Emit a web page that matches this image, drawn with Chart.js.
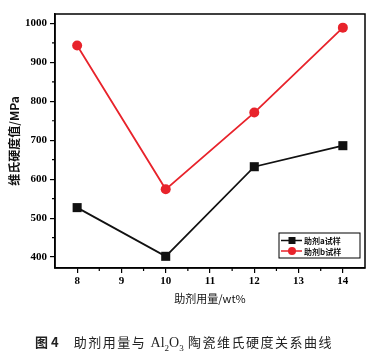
<!DOCTYPE html>
<html>
<head>
<meta charset="utf-8">
<script src="https://cdn.jsdelivr.net/npm/chart.js@4.4.1/dist/chart.umd.min.js"></script>
<style>
    body { margin: 0; background: #fff; }
    #wrap { position: relative; width: 378px; height: 358px; }
    #caption {
        position: absolute; left: 35px; top: 333px; white-space: nowrap;
        font: 13px/18px "Noto Sans CJK SC", sans-serif; color: #222; letter-spacing: 1.5px;
    }
    #caption b { font-weight: bold; letter-spacing: 0; margin-right: 15px; }
    #caption .f { font-family: "Liberation Serif", serif; font-size: 14px; letter-spacing: 0; }
    #caption sub { font-size: 9px; }
</style>
</head>
<body>
<div id="wrap">
    <canvas id="hardChart" width="378" height="358"></canvas>
    <div id="caption"><b>图 4</b>助剂用量与 <span class="f">Al<sub>2</sub>O<sub>3</sub></span> 陶瓷维氏硬度关系曲线</div>
</div>
<script>
const doses = [8, 10, 12, 14];
const hardnessA = [527, 402, 632, 686];
const hardnessB = [943, 574, 771, 989];
const xTicks = [8, 9, 10, 11, 12, 13, 14];
const yTicks = [400, 500, 600, 700, 800, 900, 1000];
const seriesLabels = ["助剂a试样", "助剂b试样"];

const tickFont = { family: "Liberation Serif", size: 11, weight: "bold" };

// plot frame (top/right sides) and minor ticks
const framePlugin = {
    id: "frame",
    afterDraw(chart) {
        const { ctx, chartArea: a, scales } = chart;
        ctx.save();
        ctx.strokeStyle = "#000";
        ctx.lineWidth = 1.5;
        ctx.strokeRect(a.left, a.top, a.right - a.left, a.bottom - a.top);

        ctx.lineWidth = 1.2;
        ctx.beginPath();
        const xs = scales.x.ticks.map(t => t.value);
        for (let i = 0; i < xs.length - 1; i++) {
            const px = scales.x.getPixelForValue((xs[i] + xs[i + 1]) / 2);
            ctx.moveTo(px, a.bottom);
            ctx.lineTo(px, a.bottom + 3);
        }
        const ys = scales.y.ticks.map(t => t.value);
        for (let i = 0; i < ys.length - 1; i++) {
            const py = scales.y.getPixelForValue((ys[i] + ys[i + 1]) / 2);
            ctx.moveTo(a.left, py);
            ctx.lineTo(a.left - 3, py);
        }
        ctx.stroke();
        ctx.restore();
    }
};

// boxed legend in the lower right of the plot
const legendPlugin = {
    id: "boxLegend",
    afterDraw(chart) {
        const { ctx, chartArea: a } = chart;
        const left = a.right - 86, top = a.bottom - 35;
        ctx.save();
        ctx.strokeStyle = "#000";
        ctx.lineWidth = 1;
        ctx.strokeRect(left, top, 81, 25);
        ctx.font = "bold 8px 'Noto Sans CJK SC'";
        ctx.textBaseline = "middle";
        chart.data.datasets.forEach((ds, i) => {
            const y = top + 7.5 + i * 10.5;
            ctx.strokeStyle = ds.borderColor;
            ctx.lineWidth = 1.5;
            ctx.beginPath();
            ctx.moveTo(left + 2, y);
            ctx.lineTo(left + 23, y);
            ctx.stroke();
            ctx.fillStyle = ds.backgroundColor;
            ctx.beginPath();
            if (ds.pointStyle === "rect") {
                ctx.rect(left + 9.5, y - 3.5, 7, 7);
            } else {
                ctx.arc(left + 13, y, 4, 0, Math.PI * 2);
            }
            ctx.fill();
            ctx.fillStyle = "#111";
            ctx.fillText(ds.label, left + 25, y + 0.5);
        });
        ctx.restore();
    }
};

new Chart(document.getElementById("hardChart"), {
    type: "line",
    data: {
        datasets: [
            {
                label: seriesLabels[0],
                data: doses.map((d, i) => ({ x: d, y: hardnessA[i] })),
                borderColor: "#111",
                backgroundColor: "#111",
                borderWidth: 1.8,
                pointStyle: "rect",
                pointRadius: 6.4,
                pointBorderWidth: 0
            },
            {
                label: seriesLabels[1],
                data: doses.map((d, i) => ({ x: d, y: hardnessB[i] })),
                borderColor: "#e8232b",
                backgroundColor: "#e8232b",
                borderWidth: 1.8,
                pointStyle: "circle",
                pointRadius: 5,
                pointBorderWidth: 0
            }
        ]
    },
    options: {
        responsive: false,
        animation: false,
        layout: { padding: { top: 14, right: 13, left: 0, bottom: 40 } },
        plugins: {
            legend: { display: false },
            tooltip: { enabled: false }
        },
        scales: {
            x: {
                type: "linear",
                min: 7.5,
                max: 14.5,
                afterBuildTicks: s => { s.ticks = xTicks.map(v => ({ value: v })); },
                afterFit: s => { s.height = 50; },
                grid: { drawOnChartArea: false, color: "#000", lineWidth: 1.2, tickLength: 5 },
                border: { color: "#000", width: 1.5 },
                ticks: { color: "#000", font: tickFont, padding: 2, maxRotation: 0, callback: v => String(v) },
                title: {
                    display: true,
                    text: "助剂用量/wt%",
                    color: "#111",
                    font: { family: "Noto Sans CJK SC", size: 11 },
                    padding: { top: 0, bottom: 13 }
                }
            },
            y: {
                min: 372,
                max: 1024,
                afterBuildTicks: s => { s.ticks = yTicks.map(v => ({ value: v })); },
                afterFit: s => { s.width = 55; },
                grid: { drawOnChartArea: false, color: "#000", lineWidth: 1.2, tickLength: 5 },
                border: { color: "#000", width: 1.5 },
                ticks: { color: "#000", font: tickFont, padding: 3, callback: v => String(v) },
                title: {
                    display: true,
                    text: "维氏硬度值/MPa",
                    color: "#111",
                    font: { family: "Noto Sans CJK SC", size: 12, weight: "bold" },
                    padding: { top: 7, bottom: 0 }
                }
            }
        }
    },
    plugins: [framePlugin, legendPlugin]
});
</script>
</body>
</html>
